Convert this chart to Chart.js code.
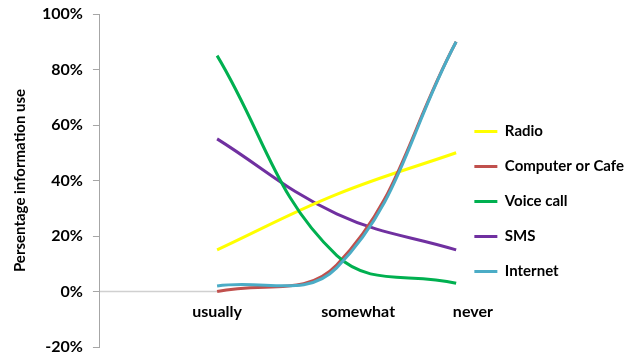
<!DOCTYPE html>
<html>
<head>
<meta charset="utf-8">
<script src="https://cdn.jsdelivr.net/npm/chart.js@4.4.1/dist/chart.umd.min.js"></script>
<style>
  html, body { margin: 0; padding: 0; background: #ffffff; }
  #wrap { width: 631px; height: 358px; position: relative; }
</style>
</head>
<body>
<div id="wrap"><canvas id="c" width="631" height="358"></canvas></div>
<script>
// ---- data ----
const categories = ['usually', 'somewhat', 'never'];
const seriesNames = ['Radio', 'Computer or Cafe', 'Voice call', 'SMS', 'Internet'];
const radio    = [15, 35, 50];
const computer = [0, 9.5, 90];
const voice    = [85, 13, 3];
const sms      = [55, 28, 15];
const internet = [2, 8.5, 90];
const zeroLine = [0, 0];
const yTicks = [-20, 0, 20, 40, 60, 80, 100];

// ---- styling ----
const colors = ['#FFFF00', '#C0504D', '#00B050', '#7030A0', '#4BACC6'];
const drawOrder = [3, 2, 1, 4, 0];
const allSeries = [radio, computer, voice, sms, internet];
const xMin = 0.02, xMax = 2.985;
const labelShift = [0, 0.18, 0.14];
const FONT = 'Lato, "Open Sans", sans-serif';

const toPoints = arr => arr.map((v, i) => ({ x: i + 1, y: v }));

const datasets = allSeries.map((arr, i) => ({
  label: seriesNames[i],
  data: toPoints(arr),
  borderColor: colors[i],
  backgroundColor: colors[i],
  borderWidth: 3,
  pointRadius: 0,
  tension: 0.4,
  fill: false,
  clip: false,
  order: drawOrder[i]
}));
datasets.push({
  label: '_zero',
  data: [{ x: xMin, y: zeroLine[0] }, { x: 1, y: zeroLine[1] }],
  borderColor: '#d0d0d0',
  borderWidth: 1.5,
  pointRadius: 0,
  order: 10
});

// let the legend be as wide as its longest label
const legendWidthPlugin = {
  id: 'legendWidth',
  beforeLayout(chart) {
    const lg = chart.legend;
    if (lg && !lg._wPatched) {
      const orig = lg.update.bind(lg);
      lg.update = (maxW, maxH, margins) => orig(Math.max(maxW, 220), maxH, margins);
      lg._wPatched = true;
    }
  }
};

new Chart(document.getElementById('c'), {
  type: 'line',
  data: { datasets },
  plugins: [legendWidthPlugin],
  options: {
    responsive: false,
    animation: false,
    layout: { padding: { top: 14, bottom: 11, left: 7, right: -3 } },
    plugins: {
      tooltip: { enabled: false },
      legend: {
        position: 'right',
        align: 'center',
        title: { display: true, text: ' ', padding: { top: 12, bottom: 12 }, font: { size: 15, family: FONT } },
        labels: {
          filter: item => item.text !== '_zero',
          sort: (a, b) => a.datasetIndex - b.datasetIndex,
          boxWidth: 23,
          boxHeight: 0,
          padding: 20,
          color: '#000',
          font: { family: FONT, size: 15, weight: 'bold' }
        }
      }
    },
    scales: {
      x: {
        type: 'linear',
        min: xMin,
        max: xMax,
        position: { y: 0 },
        border: { display: false },
        grid: { display: false, drawTicks: false },
        afterBuildTicks: scale => {
          scale.ticks = categories.map((c, i) => ({ value: i + 1 + labelShift[i], label: c }));
        },
        ticks: {
          autoSkip: false,
          maxRotation: 0,
          padding: 11,
          color: '#000',
          font: { family: FONT, size: 16, weight: 'bold' },
          callback: function (value, index) { return categories[index]; }
        }
      },
      y: {
        min: -20,
        max: 100,
        afterBuildTicks: scale => { scale.ticks = yTicks.map(v => ({ value: v })); },
        border: { display: true, color: '#a6a6a6', width: 1 },
        grid: { display: true, drawOnChartArea: false, drawTicks: true, tickLength: 7, color: '#a6a6a6' },
        ticks: {
          padding: 10,
          color: '#000',
          font: { family: FONT, size: 16, weight: 'bold', lineHeight: 0.1 },
          callback: v => v + '%'
        },
        title: {
          display: true,
          text: 'Persentage information use',
          color: '#000',
          padding: { top: 4, bottom: 3 },
          font: { family: FONT, size: 15, weight: 'bold' }
        }
      }
    }
  }
});
</script>
</body>
</html>
